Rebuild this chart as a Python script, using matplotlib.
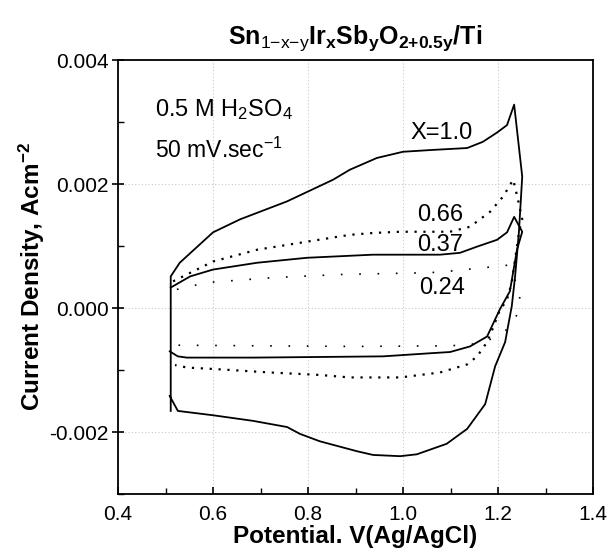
import matplotlib
matplotlib.use("Agg")
import matplotlib.pyplot as plt
from matplotlib.ticker import MultipleLocator, FormatStrFormatter

plt.rcParams['font.family'] = ['Liberation Sans', 'DejaVu Sans']
plt.rcParams['mathtext.fontset'] = 'custom'
plt.rcParams['mathtext.rm'] = 'Liberation Sans'
plt.rcParams['mathtext.it'] = 'Liberation Sans:italic'
plt.rcParams['mathtext.bf'] = 'Liberation Sans:bold'

# ---- data (potential V vs Ag/AgCl, current density A/cm^2) ----
x10_v = [0.511, 0.511, 0.530, 0.600, 0.657, 0.756, 0.853, 0.888, 0.945, 1.000, 1.063, 1.135,
         1.168, 1.198, 1.219, 1.234, 1.251, 1.244, 1.236, 1.229, 1.215, 1.194, 1.173, 1.135,
         1.092, 1.029, 0.994, 0.937, 0.903, 0.825, 0.783, 0.756, 0.684, 0.600, 0.526, 0.509]
x10_j = [-0.00166, 0.00051, 0.00073, 0.00122, 0.00143, 0.00172, 0.00207, 0.00223, 0.00242,
         0.00252, 0.00255, 0.00258, 0.00268, 0.00283, 0.00295, 0.00328, 0.00212, 0.00122,
         0.00051, 0.00003, -0.00055, -0.00094, -0.00155, -0.00195, -0.00219, -0.00236,
         -0.00239, -0.00237, -0.00231, -0.00215, -0.00203, -0.00192, -0.00182, -0.00173,
         -0.00166, -0.00142]

x037_v = [0.511, 0.552, 0.600, 0.693, 0.798, 0.937, 1.078, 1.120, 1.156, 1.198, 1.219, 1.234,
          1.251, 1.240, 1.225, 1.204, 1.177, 1.141, 1.099, 1.057, 0.958, 0.825, 0.684, 0.545,
          0.526, 0.509]
x037_j = [0.00033, 0.00051, 0.00062, 0.00073, 0.00081, 0.00086, 0.00086, 0.00089, 0.00099,
          0.00110, 0.00122, 0.00147, 0.00123, 0.00094, 0.00027, -0.00002, -0.00046, -0.00062,
          -0.00071, -0.00073, -0.00078, -0.00079, -0.00080, -0.00080, -0.00078, -0.00070]

x066_v = [0.516, 0.537, 0.600, 0.693, 0.798, 0.888, 0.937, 0.994, 1.078, 1.099, 1.141, 1.183,
          1.211, 1.232, 1.242, 1.251, 1.245, 1.229, 1.219, 1.202, 1.190, 1.177, 1.156, 1.135,
          1.078, 0.994, 0.888, 0.825, 0.720, 0.615, 0.545, 0.520]
x066_j = [0.00043, 0.00051, 0.00075, 0.00094, 0.00107, 0.00118, 0.00121, 0.00123, 0.00123,
          0.00123, 0.00131, 0.00155, 0.00180, 0.00207, 0.00175, 0.00143, 0.00126, 0.00041,
          0.00014, -0.00007, -0.00031, -0.00055, -0.00078, -0.00091, -0.00104, -0.00112,
          -0.00112, -0.00108, -0.00104, -0.00099, -0.00096, -0.00092]

x024_v = [0.524, 0.587, 0.726, 0.867, 1.057, 1.093, 1.221, 1.232, 1.242, 1.246, 1.244, 1.240,
          1.232, 1.210, 1.180, 1.150, 1.100, 0.900, 0.700, 0.520]
x024_j = [0.00030, 0.00041, 0.00049, 0.00054, 0.00057, 0.00059, 0.00069, 0.00051, 0.00035,
          0.00019, 0.00003, -0.00010, -0.00026, -0.00040, -0.00052, -0.00058, -0.00061,
          -0.00062, -0.00061, -0.00060]

curve_labels = ["X=1.0", "0.66", "0.37", "0.24"]
label_pos_v = [1.082, 1.078, 1.078, 1.082]
label_pos_j = [0.00283, 0.00150, 0.00102, 0.00033]

fig = plt.figure(figsize=(6.09, 5.59), dpi=100)
ax = fig.add_axes([118 / 609, 1 - 494 / 559, (593 - 118) / 609, (494 - 60) / 559])

ax.plot(x10_v, x10_j, color='black', lw=1.3, solid_joinstyle='round')
ax.plot(x037_v, x037_j, color='black', lw=1.3, solid_joinstyle='round')
ax.plot(x066_v, x066_j, color='black', lw=1.6, linestyle=(0, (1, 3)))
ax.plot(x024_v, x024_j, color='black', lw=1.2, linestyle=(0, (1, 10)))

for t, xv, yv in zip(curve_labels, label_pos_v, label_pos_j):
    ax.text(xv, yv, t, fontsize=17, ha='center', va='center')

ax.text(0.622, 0.0032, r'0.5 M H$_{2}$SO$_{4}$', fontsize=17, ha='center', va='center')
ax.text(0.612, 0.00255, r'50 mV.sec$^{{-}1}$', fontsize=16.5, ha='center', va='center')

ax.set_xlim(0.4, 1.4)
ax.set_ylim(-0.003, 0.004)
ax.xaxis.set_major_locator(MultipleLocator(0.2))
ax.xaxis.set_minor_locator(MultipleLocator(0.1))
ax.yaxis.set_major_locator(MultipleLocator(0.002))
ax.yaxis.set_minor_locator(MultipleLocator(0.001))
ax.xaxis.set_major_formatter(FormatStrFormatter('%.1f'))
ax.yaxis.set_major_formatter(FormatStrFormatter('%.3f'))

ax.grid(True, which='major', color='#c8c8c8', linestyle=(0, (1, 2)), lw=0.8)
ax.tick_params(axis='x', which='major', direction='in', length=5, width=1.2, labelsize=15, pad=8)
ax.tick_params(axis='x', which='minor', direction='in', length=4, width=1.0)
ax.tick_params(axis='y', which='major', direction='inout', length=9, width=1.2, labelsize=15, pad=2)
ax.tick_params(axis='y', which='minor', direction='in', length=4, width=1.0)
for s in ax.spines.values():
    s.set_linewidth(1.3)

ax.set_xlabel('Potential. V(Ag/AgCl)', fontsize=17.5, fontweight='bold', labelpad=1)
ax.set_ylabel(r'Current Density, Acm$^{\mathbf{{-}2}}$', fontsize=17.5, fontweight='bold', labelpad=2)
ax.set_title(r'$\mathbf{Sn}_{\mathregular{1{-}x{-}y}}\mathbf{Ir}_{\mathbf{x}}\mathbf{Sb}_{\mathbf{y}}'
             r'\mathbf{O}_{\mathbf{2{+}0.5y}}\mathbf{/Ti}$', fontsize=18, pad=12)

fig.savefig('out.png', dpi=100)
